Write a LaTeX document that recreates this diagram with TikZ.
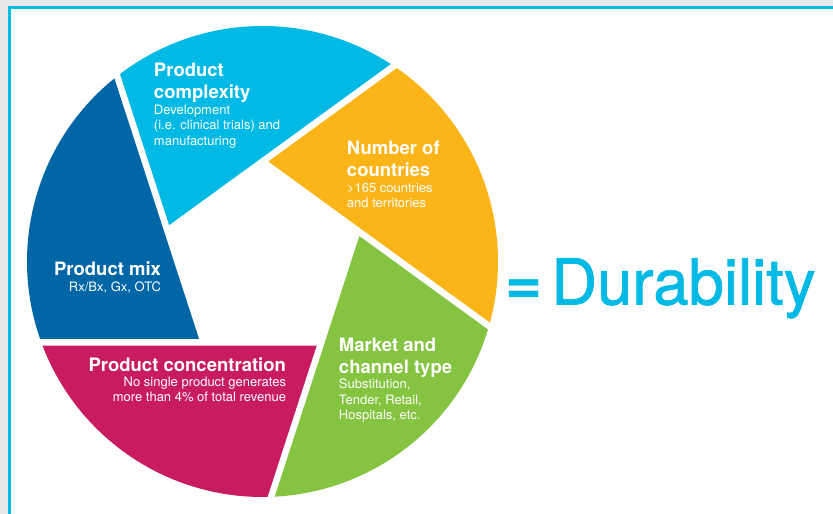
\documentclass[tikz,border=0pt]{standalone}
\usepackage{fontspec}
\setmainfont{TeX Gyre Heros}
\newfontfamily\durfont[FakeBold=1.2]{TeX Gyre Heros}
\definecolor{cLight}{RGB}{0,185,228}
\definecolor{cOrange}{RGB}{251,181,24}
\definecolor{cGreen}{RGB}{133,196,65}
\definecolor{cMagenta}{RGB}{200,27,96}
\definecolor{cDark}{RGB}{0,102,166}
\definecolor{cFrame}{RGB}{0,190,230}
\definecolor{cBack}{RGB}{232,233,235}
\newcommand\dgTitle{\fontsize{18.5}{22}\selectfont\bfseries}
\newcommand\dgSub{\fontsize{13}{15.5}\selectfont\mdseries}
\begin{document}
\begin{tikzpicture}[x=1pt,y=1pt,
  gapline/.style={draw=white,line width=6.5pt,shorten >=-8pt},
  lab/.style={text=white,inner sep=0pt,outer sep=0pt}]
\useasboundingbox (-262.5,-252.5) rectangle (570.5,261.5);
\fill[cBack] (-262.5,-252.5) rectangle (570.5,261.5);
\draw[cFrame,line width=3pt,fill=white] (-253,254) rectangle (600,-290);
% pentagon hole vertices and circle points
\coordinate (B) at (90:100);
\coordinate (A) at (162:100);
\coordinate (E) at (234:100);
\coordinate (D) at (306:100);
\coordinate (C) at (18:100);
\coordinate (qA) at (128.1:235.5);
\coordinate (qB) at (56.1:235.5);
\coordinate (qC) at (-15.9:235.5);
\coordinate (qD) at (-87.9:235.5);
\coordinate (qE) at (-159.9:235.5);
% segments
\fill[cLight] (A) -- (qA) arc[start angle=128.1,end angle=56.1,radius=235.5] -- cycle;
\fill[cOrange] (B) -- (qB) arc[start angle=56.1,end angle=-15.9,radius=235.5] -- cycle;
\fill[cGreen] (C) -- (qC) arc[start angle=-15.9,end angle=-87.9,radius=235.5] -- cycle;
\fill[cMagenta] (D) -- (qD) arc[start angle=-87.9,end angle=-159.9,radius=235.5] -- cycle;
\fill[cDark] (E) -- (qE) arc[start angle=-159.9,end angle=-231.9,radius=235.5] -- cycle;
% white gaps
\draw[gapline] (E) -- (qA);
\draw[gapline] (A) -- (qB);
\draw[gapline] (B) -- (qC);
\draw[gapline] (C) -- (qD);
\draw[gapline] (D) -- (qE);
% labels
\node[lab,anchor=base west] (complexity) at (-108.5,184.5)
  {\vtop{\dgTitle\hbox{Product}\hbox{complexity}\dgSub\hbox{Development}\hbox{(i.e. clinical trials) and}\hbox{manufacturing}}};
\node[lab,anchor=base west] (countries) at (84.5,106.5)
  {\vtop{\dgTitle\hbox{Number of}\hbox{countries}\dgSub\hbox{>165 countries}\hbox{and territories}}};
\node[lab,anchor=base west] (market) at (76.5,-89.5)
  {\vtop{\dgTitle\hbox{Market and}\hbox{channel type}\dgSub\hbox{Substitution,}\hbox{Tender, Retail,}\hbox{Hospitals, etc.}}};
\node[lab,anchor=base east] (mix) at (-101.5,-14.5)
  {\vtop{\dgTitle\hbox to 120pt{\hfil Product mix}\dgSub\hbox to 120pt{\hfil Rx/Bx, Gx, OTC}}};
\node[lab,anchor=base east] (concentration) at (23.5,-109.5)
  {\vtop{\dgTitle\hbox to 215pt{\hfil Product concentration}\dgSub\hbox to 215pt{\hfil No single product generates}\hbox to 215pt{\hfil more than 4\% of total revenue}}};
\node[anchor=base west,inner sep=0pt,text=cLight,font=\fontsize{63.5}{63.5}\selectfont] (durability) at (243,-43)
  {{\bfseries =}\hspace{8.5pt}{\durfont Durability}};
\end{tikzpicture}
\end{document}
